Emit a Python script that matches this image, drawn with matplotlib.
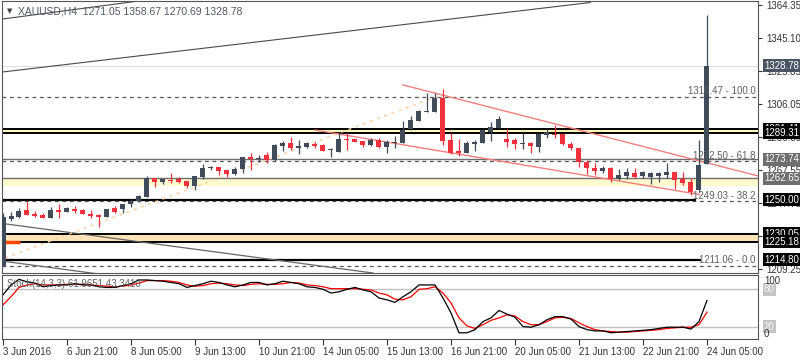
import numpy as np
import matplotlib
matplotlib.use("Agg")
import matplotlib.pyplot as plt
from matplotlib.transforms import blended_transform_factory

plt.rcParams['font.family'] = ['Liberation Sans', 'DejaVu Sans']

# H4 candles, bar 0 = 3 Jun 2016
opens = [1211.3, 1238.6, 1240.0, 1243.7, 1241.6, 1241.0, 1239.4, 1243.9, 1242.9, 1244.5,
         1243.9, 1241.6, 1241.0, 1240.0, 1245.3, 1244.3, 1247.4, 1249.2, 1251.7, 1262.7,
         1260.5, 1261.5, 1261.9, 1260.9, 1258.2, 1263.5, 1268.8, 1269.2, 1267.4, 1264.9,
         1267.8, 1275.0, 1273.9, 1276.1, 1273.3, 1281.7, 1283.5, 1280.5, 1280.8, 1282.7,
         1282.1, 1279.2, 1278.2, 1285.6, 1285.6, 1284.6, 1282.1, 1285.0, 1281.1, 1283.1,
         1283.4, 1291.5, 1296.2, 1301.5, 1301.7, 1309.9, 1285.0, 1278.8, 1277.6, 1282.5,
         1283.4, 1289.9, 1292.3, 1285.5, 1285.0, 1282.7, 1283.1, 1281.1, 1287.8, 1288.6,
         1288.6, 1282.5, 1280.2, 1272.3, 1268.8, 1267.0, 1268.8, 1262.1, 1263.9, 1265.8,
         1264.1, 1263.5, 1264.1, 1264.5, 1266.4, 1261.9, 1260.2, 1255.7, 1271.05]
highs = [1242.0, 1242.9, 1245.1, 1248.8, 1243.3, 1242.3, 1245.9, 1247.4, 1245.9, 1246.3,
         1244.3, 1243.9, 1241.6, 1244.5, 1246.3, 1247.4, 1250.6, 1252.9, 1263.9, 1262.7,
         1261.9, 1265.8, 1263.1, 1260.9, 1263.9, 1270.9, 1269.9, 1269.2, 1267.4, 1269.0,
         1275.0, 1277.4, 1276.1, 1278.0, 1282.7, 1284.6, 1287.0, 1285.0, 1284.0, 1283.7,
         1282.7, 1280.5, 1289.3, 1289.0, 1285.6, 1284.6, 1286.0, 1286.0, 1285.0, 1287.6,
         1296.2, 1299.3, 1302.7, 1312.5, 1312.5, 1314.8, 1289.0, 1285.4, 1284.5, 1285.0,
         1291.3, 1295.4, 1299.1, 1291.3, 1286.4, 1289.0, 1284.0, 1289.3, 1291.3, 1294.0,
         1288.6, 1283.7, 1280.2, 1273.3, 1271.4, 1269.9, 1269.4, 1267.8, 1268.4, 1268.8,
         1266.8, 1266.4, 1266.4, 1271.7, 1266.4, 1266.4, 1262.5, 1285.0, 1358.67]
lows = [1210.9, 1237.6, 1239.4, 1241.1, 1239.8, 1239.4, 1239.4, 1239.4, 1242.6, 1242.3,
        1241.4, 1239.4, 1234.1, 1239.6, 1242.3, 1242.3, 1245.9, 1248.6, 1251.4, 1257.6,
        1259.0, 1259.9, 1259.8, 1257.0, 1255.7, 1262.1, 1267.4, 1264.5, 1263.5, 1264.5,
        1265.5, 1267.6, 1272.0, 1271.7, 1272.9, 1278.8, 1279.2, 1276.6, 1280.2, 1280.2,
        1278.6, 1275.2, 1278.2, 1279.2, 1283.7, 1281.1, 1281.7, 1280.5, 1277.6, 1280.5,
        1283.4, 1290.9, 1296.2, 1301.3, 1301.7, 1282.1, 1276.8, 1275.6, 1277.2, 1278.6,
        1283.1, 1284.5, 1291.9, 1280.8, 1279.6, 1279.6, 1277.2, 1278.2, 1286.0, 1286.0,
        1281.9, 1279.2, 1269.0, 1264.9, 1264.5, 1265.5, 1260.5, 1261.5, 1262.1, 1262.5,
        1262.5, 1259.2, 1260.5, 1262.5, 1256.1, 1258.6, 1252.7, 1254.7, 1270.69]
closes = [1240.0, 1240.4, 1243.5, 1241.2, 1240.4, 1239.4, 1243.9, 1242.9, 1244.9, 1243.3,
          1241.4, 1240.4, 1240.0, 1244.3, 1242.9, 1247.4, 1249.4, 1252.1, 1262.5, 1260.5,
          1261.9, 1260.8, 1260.4, 1258.2, 1263.9, 1268.4, 1269.1, 1266.8, 1264.9, 1268.0,
          1275.0, 1273.9, 1274.1, 1273.3, 1282.1, 1283.5, 1280.5, 1281.5, 1283.5, 1281.7,
          1278.6, 1279.8, 1285.6, 1285.0, 1284.0, 1282.1, 1285.0, 1281.1, 1283.7, 1284.1,
          1290.9, 1296.8, 1302.1, 1302.1, 1309.9, 1284.5, 1277.6, 1277.6, 1283.1, 1284.0,
          1290.9, 1292.9, 1297.2, 1284.1, 1282.5, 1283.1, 1281.5, 1288.6, 1289.7, 1287.8,
          1282.5, 1280.2, 1272.0, 1268.4, 1266.8, 1268.8, 1262.1, 1264.5, 1266.4, 1263.1,
          1266.1, 1265.5, 1265.5, 1266.4, 1261.5, 1259.9, 1254.7, 1270.4, 1328.78]

# Stochastic %K and %D
stoch_k = [71, 87, 96, 92, 90, 84, 86, 87, 87, 89, 87, 87, 84, 83, 83, 86, 89, 95, 95, 94,
           93, 91, 89, 83, 86, 89, 93, 91, 87, 84, 87, 91, 91, 87, 89, 93, 91, 89, 84, 83,
           80, 74, 76, 80, 83, 79, 76, 66, 63, 59, 68, 76, 87, 87, 87, 66, 42, 10, 10, 15,
           28, 34, 46, 40, 35, 20, 19, 23, 31, 36, 36, 32, 20, 15, 13, 13, 10, 11, 12, 13,
           14, 15, 17, 19, 19, 19, 16, 28, 61.97]
stoch_d = [55, 68, 83, 87, 89, 87, 87, 87, 88, 88, 88, 87, 86, 85, 84, 85, 87, 90, 94, 94,
           94, 93, 91, 87, 85, 86, 89, 90, 89, 87, 86, 88, 89, 88, 88, 89, 91, 90, 87, 86,
           84, 81, 81, 81, 81, 80, 79, 74, 71, 64, 63, 68, 80, 81, 84, 74, 58, 34, 21, 17,
           23, 30, 34, 39, 37, 28, 23, 23, 28, 34, 35, 33, 26, 20, 15, 13, 12, 11, 11, 12,
           13, 14, 15, 17, 18, 19, 19, 23, 43.34]

date_labels = ["3 Jun 2016", "6 Jun 21:00", "8 Jun 05:00", "9 Jun 13:00", "10 Jun 21:00",
               "14 Jun 05:00", "15 Jun 13:00", "16 Jun 21:00", "20 Jun 05:00",
               "21 Jun 13:00", "22 Jun 21:00", "24 Jun 05:00"]
price_ticks = [1364.35, 1345.10, 1325.85, 1306.05, 1286.80, 1267.55, 1247.75, 1228.50, 1209.25]
price_tick_labels = ["1364.35", "1345.10", "1325.85", "1306.05", "1286.80", "1267.55", "1247.75", "", "1209.25"]

fib_levels = [1310.47, 1272.50, 1249.03, 1211.06]
fib_pcts = ["100.0", "61.8", "38.2", "0.0"]

BULL = '#414c5b'
BEAR = '#f0303d'
AXC = '#555555'

W, H = 800, 360
def px_box(x0, y0, x1, y1):
    return [x0 / W, 1 - y1 / H, (x1 - x0) / W, (y1 - y0) / H]

fig = plt.figure(figsize=(8, 3.6), dpi=100)
ax = fig.add_axes(px_box(2, 1, 758, 272.5))
ax2 = fig.add_axes(px_box(2, 275, 758, 339))

x = np.arange(len(opens))
o, h, l, c = map(np.array, (opens, highs, lows, closes))
cols = np.where(c >= o, BULL, BEAR)

# bands and horizontal levels
ax.axhspan(1289.31, 1291.41, color='#fff8b8', lw=0, zorder=1)
ax.axhspan(1257.8, 1262.65, color='#fffacd', lw=0, zorder=1)
ax.axhspan(1225.18, 1230.05, color='#fde3b8', lw=0, zorder=1)
ax.axhline(1328.78, color='#dcdcdc', lw=0.7, zorder=1)
for v in (1291.41, 1289.31, 1230.05, 1225.18):
    ax.axhline(v, color='black', lw=1.4, zorder=2)
ax.axhline(1250.00, xmax=0.917, color='black', lw=1.6, zorder=2)
ax.axhline(1214.80, xmax=0.923, color='black', lw=1.6, zorder=2)
ax.axhline(1273.74, color='#6e6e6e', lw=1, zorder=2)
ax.axhline(1262.65, color='#6e6e6e', lw=1, zorder=2)
for v in fib_levels:
    ax.axhline(v, color='#555555', lw=0.9, ls=(0, (3, 3)), zorder=2)
ax.plot([0.25, 2.1], [1225.0, 1225.0], color='#ff4500', lw=2.5, solid_capstyle='butt', zorder=3)

# trend lines
ax.plot([-0.4, 73.4], [1324.8, 1365.8], color='#4a4a4a', lw=0.8, zorder=2)
ax.plot([-0.4, 20.0], [1355.9, 1368.6], color='#4a4a4a', lw=0.8, zorder=2)
ax.plot([0.25, 46.25], [1235.8, 1206.9], color='#666666', lw=0.9, zorder=2)
ax.plot([0.25, 12.0], [1213.7, 1206.3], color='#666666', lw=0.9, zorder=2)
ax.plot([0.25, 54.4], [1215.7, 1310.9], color='#f7d2a4', lw=1.1, ls=(0, (2, 3)), zorder=2)
ax.plot([50.0, 94.4], [1317.4, 1263.9], color='#f47f7f', lw=1, zorder=2)
ax.plot([39.0, 87.1], [1290.9, 1253.0], color='#f47f7f', lw=1, zorder=2)

# candles
ax.vlines(x, l, h, colors=cols, lw=0.9, zorder=4)
ax.bar(x, np.maximum(np.abs(c - o), 0.6), 0.625, np.minimum(o, c), color=cols, lw=0, zorder=5)

ax.set_xlim(-0.125, 94.375)
ax.set_ylim(1207.2, 1366.7)
ax.set_xticks([])
ax.yaxis.tick_right()
ax.set_yticks(price_ticks)
ax.set_yticklabels(price_tick_labels)
ax.tick_params(axis='y', length=3, width=0.8, pad=3, labelsize=7, colors='#333333')
for s in ax.spines.values():
    s.set_color(AXC)
    s.set_linewidth(0.8)

tr = blended_transform_factory(ax.transAxes, ax.transData)
for v, p in zip(fib_levels, fib_pcts):
    ax.text(0.997, v + 3.2, f"{v:.2f} - {p}", transform=tr,
            ha='right', va='center', fontsize=7, color='#606060', zorder=6)

def price_box(val, fc):
    ax.text(1.0079, val, f"{val:.2f}", transform=tr, ha='left', va='center', fontsize=7,
            color='white', zorder=20, clip_on=False,
            bbox=dict(boxstyle='square,pad=0.15', fc=fc, ec='none'))

price_box(1328.78, '#4a5564')
price_box(1291.41, 'black')
price_box(1289.31, 'black')
price_box(1273.74, '#6e6e6e')
price_box(1262.65, '#6e6e6e')
price_box(1250.00, 'black')
price_box(1230.05, 'black')
price_box(1225.18, 'black')
price_box(1214.80, 'black')

fig.text(7 / W, 1 - 11 / H, '\u25BC', fontsize=5, color='#404040', va='center', family='DejaVu Sans')
fig.text(18 / W, 1 - 11 / H, "XAUUSD,H4  1271.05 1358.67 1270.69 1328.78", fontsize=7.5,
         color='#505a66', va='center')

# stochastic panel
ax2.axhline(80, color='#c0c0c0', lw=1)
ax2.axhline(20, color='#c0c0c0', lw=1)
ax2.plot(x, stoch_d, color='#ff0000', lw=0.9)
ax2.plot(x, stoch_k, color='black', lw=0.9)
ax2.set_xlim(-0.125, 94.375)
ax2.set_ylim(0, 103)
ax2.set_yticks([])
ax2.set_xticks(range(0, 89, 8))
ax2.set_xticklabels(date_labels, ha='left')
ax2.tick_params(axis='x', length=4, width=0.8, pad=2, labelsize=7, colors='#333333')
for s in ax2.spines.values():
    s.set_color(AXC)
    s.set_linewidth(0.8)

tr2 = blended_transform_factory(ax2.transAxes, ax2.transData)
ax2.text(1.0079, 80, "80", transform=tr2, ha='left', va='center', fontsize=7, color='#f4f4f4',
         clip_on=False, bbox=dict(boxstyle='square,pad=0.15', fc='#c4c4c4', ec='none'))
ax2.text(1.0079, 20, "20", transform=tr2, ha='left', va='center', fontsize=7, color='#f4f4f4',
         clip_on=False, bbox=dict(boxstyle='square,pad=0.15', fc='#c4c4c4', ec='none'))
ax2.text(1.0079, 94, "100", transform=tr2, ha='left', va='center', fontsize=7, color='#333333', clip_on=False)
ax2.text(1.0079, 8, "0", transform=tr2, ha='left', va='center', fontsize=7, color='#333333', clip_on=False)
fig.text(7 / W, 1 - 284 / H, "Stoch(14,3,3) 61.9651 43.3410", fontsize=7, color='#606060', va='center')

fig.savefig("out.png", dpi=100)
